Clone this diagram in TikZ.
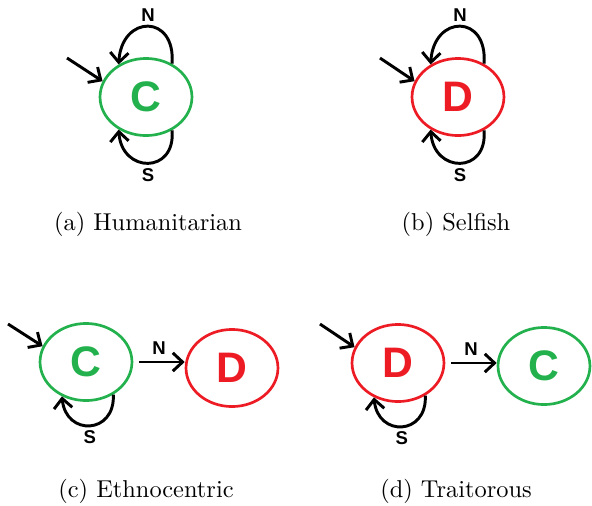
\documentclass[tikz,border=0pt]{standalone}
\usepackage{fontspec}
\usetikzlibrary{shapes.geometric,arrows.meta}
\newfontfamily\statefont{Liberation Sans}
\definecolor{cgreen}{RGB}{34,177,76}
\definecolor{cred}{RGB}{237,28,36}
\tikzset{
  state/.style={ellipse,draw,line width=1.1pt,minimum width=37.7pt,minimum height=31.6pt,inner sep=0pt,
    font=\statefont\bfseries\fontsize{17.5}{17.5}\selectfont},
  coop/.style={state,draw=cgreen,text=cgreen},
  defect/.style={state,draw=cred,text=cred},
  move/.style={draw,line width=1.2pt,-{Straight Barb[length=4pt,width=7.5pt]}},
  act/.style={font=\statefont\bfseries\fontsize{7.6}{7.6}\selectfont,inner sep=1.5pt}
}
\begin{document}
\begin{tikzpicture}[x=0.41pt,y=-0.41pt]
      \useasboundingbox (0,0) rectangle (592,506);

      % (a) humanitarian
      \node[coop] (hC) at (146,97) {C};
      \coordinate (hIn) at (67,58);
      \draw[move] (hIn) -- (hC.160);
      \draw[move] (hC.52) .. controls +(4,-50) and +(3,-50) .. node[act,above] {N} (hC.130);
      \draw[move] (hC.-52) .. controls +(4,44) and +(3,44) .. node[act,below] {S} (hC.-130);
      \node (hCap) at (148,224) {(a) Humanitarian};

      % (b) selfish
      \node[defect] (sD) at (458,97) {D};
      \coordinate (sIn) at (380,58);
      \draw[move] (sIn) -- (sD.160);
      \draw[move] (sD.52) .. controls +(4,-50) and +(3,-50) .. node[act,above] {N} (sD.130);
      \draw[move] (sD.-52) .. controls +(4,44) and +(3,44) .. node[act,below] {S} (sD.-130);
      \node (sCap) at (456,224) {(b) Selfish};

      % (c) ethnocentric
      \node[coop] (eC) at (86,362) {C};
      \node[defect] (eD) at (232,368) {D};
      \coordinate (eIn) at (8,324);
      \draw[move] (eIn) -- (eC.160);
      \draw[move,shorten <=2.5pt] (eC.east) -- node[act,above=1pt] {N} (eC.east -| eD.west);
      \draw[move] (eC.-50) .. controls +(2,40) and +(4,40) .. node[act,below] {S} (eC.-125);
      \node (eCap) at (146,491) {(c) Ethnocentric};

      % (d) traitorous
      \node[defect] (tD) at (398,363) {D};
      \node[coop] (tC) at (544,366) {C};
      \coordinate (tIn) at (320,324);
      \draw[move] (tIn) -- (tD.160);
      \draw[move,shorten <=2.5pt] (tD.east) -- node[act,above=1pt] {N} (tD.east -| tC.west);
      \draw[move] (tD.-50) .. controls +(2,40) and +(4,40) .. node[act,below] {S} (tD.-125);
      \node (tCap) at (456,491) {(d) Traitorous};

\end{tikzpicture}
\end{document}
